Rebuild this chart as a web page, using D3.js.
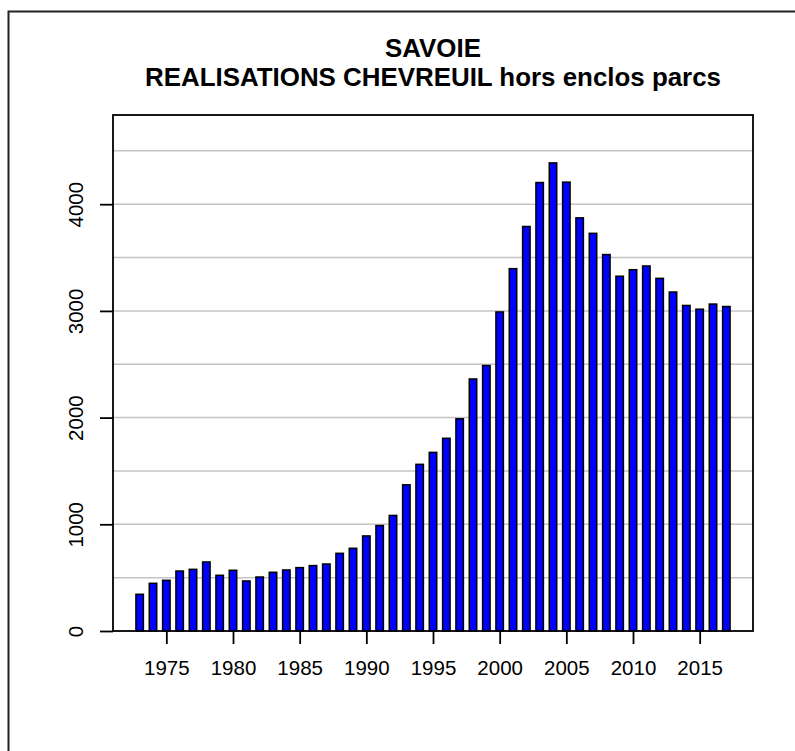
<!DOCTYPE html>
<html>
<head>
<meta charset="utf-8">
<script src="https://cdn.jsdelivr.net/npm/d3@7"></script>
<style>
  body { margin: 0; background: #fff; }
  text { font-family: "Liberation Sans", Arial, Helvetica, sans-serif; }
</style>
</head>
<body>
<svg id="chart" width="795" height="751"></svg>
<script>
// yearly realisations
var years = d3.range(1973, 2018);
var values = [344, 447, 475, 562, 578, 647, 522, 569, 469, 506,
              550, 572, 594, 613, 628, 728, 775, 891, 988, 1083,
              1370, 1562, 1674, 1806, 1989, 2362, 2488, 2990, 3396, 3791,
              4203, 4387, 4207, 3872, 3727, 3528, 3325, 3386, 3421, 3305,
              3177, 3051, 3016, 3064, 3041];
var xTicks = [1975, 1980, 1985, 1990, 1995, 2000, 2005, 2010, 2015];
var yTicks = [0, 1000, 2000, 3000, 4000];
var gridLines = [500, 1000, 1500, 2000, 2500, 3000, 3500, 4000, 4500];

function drawChart() {
    var svg = d3.select("#chart");

    var pLeft = 113, pRight = 753, pTop = 115, pBottom = 631;

    var x = d3.scaleLinear().domain([1971, 2019]).range([pLeft, pRight]);
    var y = d3.scaleLinear().domain([0, 4836]).range([pBottom, pTop]);
    var barW = (x(1974) - x(1973)) * 0.56;

    // outer frame (runs off the right and bottom edges)
    svg.append("rect")
        .attr("x", 8.5).attr("y", 11.5)
        .attr("width", 820).attr("height", 800)
        .attr("fill", "none").attr("stroke", "#222").attr("stroke-width", 2);

    // title
    svg.append("text")
        .attr("x", (pLeft + pRight) / 2).attr("y", 57)
        .attr("text-anchor", "middle")
        .style("font-size", "25.9px").style("font-weight", "bold")
        .text("SAVOIE");
    svg.append("text")
        .attr("x", (pLeft + pRight) / 2).attr("y", 86)
        .attr("text-anchor", "middle")
        .style("font-size", "25.9px").style("font-weight", "bold")
        .text("REALISATIONS CHEVREUIL hors enclos parcs");

    // grid
    svg.append("g")
        .selectAll("line")
        .data(gridLines).enter().append("line")
        .attr("x1", pLeft).attr("x2", pRight)
        .attr("y1", function (d) { return y(d); })
        .attr("y2", function (d) { return y(d); })
        .attr("stroke", "#c4c4c4").attr("stroke-width", 1.5);

    // bars
    svg.append("g")
        .selectAll("rect")
        .data(values).enter().append("rect")
        .attr("x", function (d, i) { return x(years[i]) - barW / 2; })
        .attr("y", function (d) { return y(d); })
        .attr("width", barW)
        .attr("height", function (d) { return y(0) - y(d); })
        .attr("fill", "#0000ff")
        .attr("stroke", "#000").attr("stroke-width", 1.5);

    // plot box
    svg.append("rect")
        .attr("x", pLeft).attr("y", pTop)
        .attr("width", pRight - pLeft).attr("height", pBottom - pTop)
        .attr("fill", "none").attr("stroke", "#000").attr("stroke-width", 1.8);

    // y axis, labels turned like R's las=0
    var gy = svg.append("g")
        .attr("transform", "translate(" + pLeft + ",0)")
        .call(d3.axisLeft(y).tickValues(yTicks).tickSize(13).tickSizeOuter(0)
            .tickFormat(d3.format("d")));
    gy.select(".domain").remove();
    gy.selectAll("line").attr("stroke", "#000").attr("stroke-width", 1.8);
    gy.selectAll("text")
        .attr("transform", "rotate(-90)")
        .attr("x", 0).attr("y", -30).attr("dy", null)
        .attr("text-anchor", "middle")
        .attr("fill", "#000")
        .style("font-size", "20.5px")
        .style("font-family", "Liberation Sans, Arial, sans-serif");

    // x axis
    var gx = svg.append("g")
        .attr("transform", "translate(0," + pBottom + ")")
        .call(d3.axisBottom(x).tickValues(xTicks).tickSize(13).tickSizeOuter(0)
            .tickFormat(d3.format("d")));
    gx.select(".domain").remove();
    gx.selectAll("line").attr("stroke", "#000").attr("stroke-width", 1.8);
    gx.selectAll("text")
        .attr("y", 44).attr("dy", null)
        .attr("fill", "#000")
        .style("font-size", "20.5px")
        .style("font-family", "Liberation Sans, Arial, sans-serif");
}

drawChart();
</script>
</body>
</html>
